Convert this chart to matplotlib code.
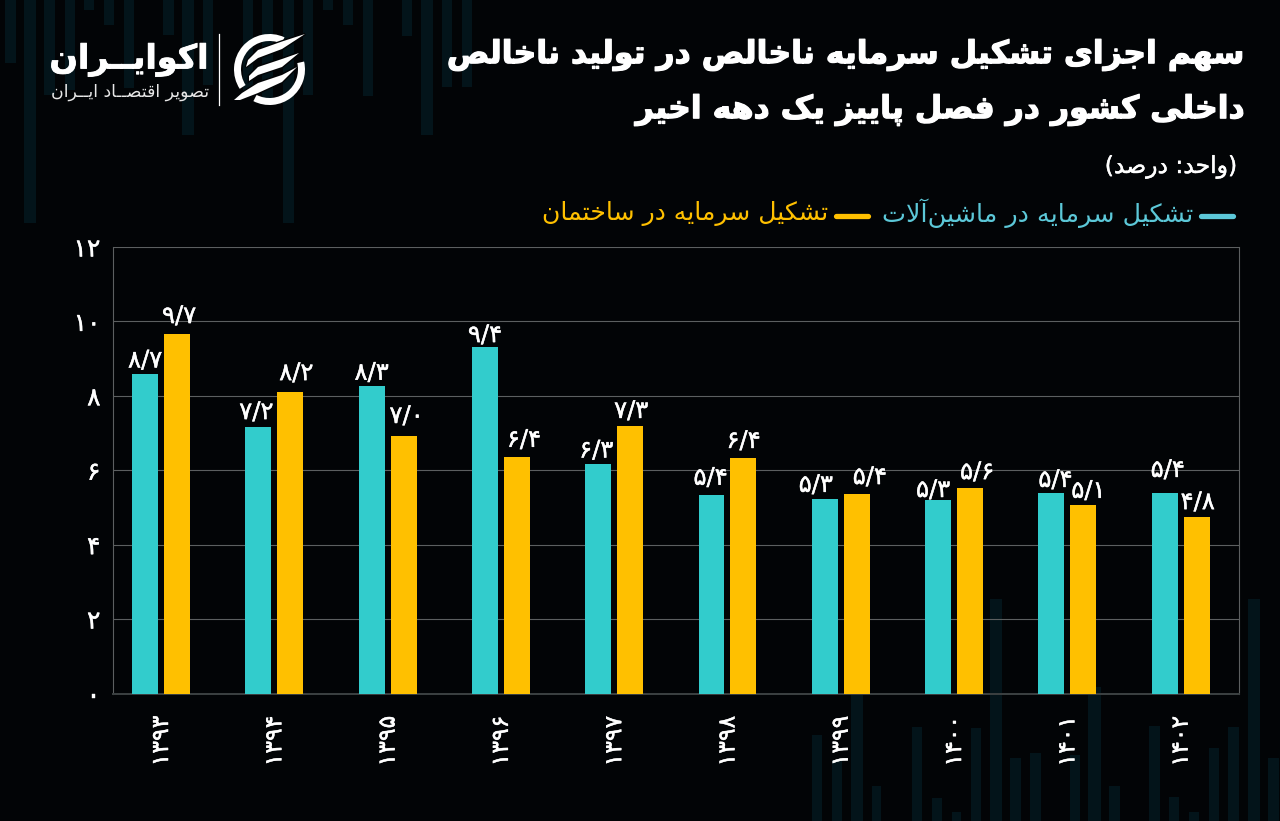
import matplotlib
matplotlib.use("Agg")
import matplotlib.pyplot as plt
import matplotlib.patheffects as pe
from matplotlib.patches import Polygon, Wedge
import numpy as np

years = ["۱۳۹۳", "۱۳۹۴", "۱۳۹۵", "۱۳۹۶", "۱۳۹۷", "۱۳۹۸", "۱۳۹۹", "۱۴۰۰", "۱۴۰۱", "۱۴۰۲"]
machinery = [8.6, 7.16, 8.27, 9.31, 6.18, 5.34, 5.23, 5.2, 5.39, 5.39]
building = [9.66, 8.1, 6.92, 6.36, 7.19, 6.33, 5.36, 5.52, 5.07, 4.74]
machinery_labels = ["۸/۷", "۷/۲", "۸/۳", "۹/۴", "۶/۳", "۵/۴", "۵/۳", "۵/۳", "۵/۴", "۵/۴"]
building_labels = ["۹/۷", "۸/۲", "۷/۰", "۶/۴", "۷/۳", "۶/۴", "۵/۴", "۵/۶", "۵/۱", "۴/۸"]
y_ticks = [0, 2, 4, 6, 8, 10, 12]
y_tick_labels = ["۰", "۲", "۴", "۶", "۸", "۱۰", "۱۲"]

title_1 = "سهم اجزای تشکیل سرمایه ناخالص در تولید ناخالص"
title_2 = "داخلی کشور در فصل پاییز یک دهه اخیر"
unit = "(واحد: درصد)"
name_machinery = "تشکیل سرمایه در ماشین\u200cآلات"
name_building = "تشکیل سرمایه در ساختمان"
logo_name = "اکوایــران"
logo_sub = "تصویر اقتصــاد ایــران"

# label nudges in pixels, relative to the top middle of each bar
machinery_dx = [0, -2, 0, 0, -2, -1, -9, -5, 4, 3]
machinery_dy = [13, 15, 13, 12, 13, 17, 14, 10, 13, 23]
building_dx = [2, 6, 3, 7, 1, 0, 13, 7, 5, 1]
building_dy = [18, 19, 20, 17, 15, 17, 17, 16, 14, 15]

# faint background stripes: left, right, end (pixels)
top_stripes = [(5, 16, 63), (24, 36, 223), (44, 55, 95), (65, 75, 90), (84, 94, 10), (104, 114, 25),
               (124, 134, 88), (163, 174, 35), (182, 194, 135), (203, 213, 85), (243, 253, 95),
               (262, 273, 100), (283, 294, 223), (303, 313, 95), (323, 333, 10), (343, 353, 25),
               (363, 373, 96), (402, 412, 36), (421, 433, 135), (442, 452, 87), (462, 472, 87)]
bottom_stripes = [(812, 822, 735), (832, 842, 760), (851, 863, 695), (872, 881, 786), (912, 922, 727),
                  (932, 942, 798), (952, 961, 812), (971, 981, 728), (990, 1002, 599), (1010, 1021, 758),
                  (1030, 1041, 753), (1070, 1080, 755), (1088, 1101, 687), (1109, 1120, 786),
                  (1149, 1160, 726), (1169, 1179, 797), (1189, 1199, 812), (1209, 1219, 748),
                  (1228, 1239, 727), (1248, 1260, 599), (1268, 1279, 758)]

TEAL = "#32cccc"
YELLOW = "#ffc000"
BG = "#020406"
STRIPE = "#03141a"

# matplotlib does no arabic shaping, so pick the presentation forms by hand
DUAL = {"ب": 0xFE8F, "ت": 0xFE95, "ج": 0xFE9D, "ح": 0xFEA1, "خ": 0xFEA5, "س": 0xFEB1, "ش": 0xFEB5,
        "ص": 0xFEB9, "ف": 0xFED1, "ق": 0xFED5, "ل": 0xFEDD, "م": 0xFEE1, "ن": 0xFEE5, "ه": 0xFEE9,
        "پ": 0xFB56, "ک": 0xFB8E, "ی": 0xFBFC}
RIGHT = {"ا": 0xFE8D, "آ": 0xFE81, "د": 0xFEA9, "ر": 0xFEAD, "ز": 0xFEAF, "و": 0xFEED}
LAM_ALEF = {"ا": 0xFEFB, "آ": 0xFEF5}


def shape(s):
    out = []
    i = 0
    while i < len(s):
        c = s[i]
        nxt = s[i + 1] if i + 1 < len(s) else ""
        prev = s[i - 1] if i > 0 else ""
        after_join = prev in DUAL or prev == "ـ"
        before_join = nxt != "" and (nxt in DUAL or nxt in RIGHT or nxt == "ـ")
        if c == "ل" and nxt in LAM_ALEF and nxt != "":
            out.append(chr(LAM_ALEF[nxt] + (1 if after_join else 0)))
            i += 2
            continue
        if c in DUAL:
            if after_join and before_join:
                k = 3
            elif before_join:
                k = 2
            elif after_join:
                k = 1
            else:
                k = 0
            out.append(chr(DUAL[c] + k))
        elif c in RIGHT:
            out.append(chr(RIGHT[c] + (1 if after_join else 0)))
        elif c == "\u200c":
            pass
        else:
            out.append(c)
        i += 1
    text = "".join(reversed(out))
    return text.translate(str.maketrans("()", ")("))


def thick(width, colour="white"):
    return [pe.withStroke(linewidth=width, foreground=colour)]


plt.rcParams["font.family"] = "DejaVu Sans"
fig = plt.figure(figsize=(12.8, 8.21), dpi=100, facecolor=BG)

# full-figure layer in pixel units for the decoration, titles and legend
bg = fig.add_axes([0, 0, 1, 1], zorder=0)
bg.set_xlim(0, 1280)
bg.set_ylim(821, 0)
bg.axis("off")
for left, right, end in top_stripes:
    bg.bar((left + right) / 2, end, right - left, bottom=0, color=STRIPE, lw=0)
for left, right, end in bottom_stripes:
    bg.bar((left + right) / 2, 821 - end, right - left, bottom=end, color=STRIPE, lw=0)

bg.text(1245, 55, shape(title_1), color="white", fontsize=22.7, fontweight="bold", ha="right", va="center",
        path_effects=thick(0.9))
bg.text(1245, 110, shape(title_2), color="white", fontsize=22.7, fontweight="bold", ha="right", va="center",
        path_effects=thick(0.9))
bg.text(1237, 167, shape(unit), color="white", fontsize=16.9, ha="right", va="center", path_effects=thick(0.3))

bg.plot([1201, 1233], [216, 216], color="#5cc8d8", lw=3.8, solid_capstyle="round")
bg.text(1193, 213, shape(name_machinery), color="#5cc8d8", fontsize=18.3, ha="right", va="center")
bg.plot([836, 868], [216, 216], color=YELLOW, lw=3.8, solid_capstyle="round")
bg.text(828, 213, shape(name_building), color=YELLOW, fontsize=18.1, ha="right", va="center")

# logo
bg.text(209, 60, shape(logo_name), color="white", fontsize=24, fontweight="bold", ha="right", va="center",
        path_effects=thick(0.6))
bg.text(209, 92, shape(logo_sub), color="#e8e8e8", fontsize=12.5, ha="right", va="center")
bg.plot([219, 219], [34, 105], color="white", lw=0.9)
bg.add_patch(Wedge((269.5, 69.5), 35.5, 147, 295, width=7, color="white", lw=0))
bg.add_patch(Wedge((269.5, 69.5), 35.5, -13, 117, width=7, color="white", lw=0))
blades = [[(305, 34), (282, 41.5), (258, 50), (248, 60), (246, 67), (258, 58), (282, 49)],
          [(299, 53), (282, 59), (258, 67), (249, 76), (249, 81), (258, 75), (282, 67)],
          [(297, 67), (282, 75), (258, 83), (242, 93), (234, 100), (240, 100), (258, 93), (282, 82)]]
for pts in blades:
    bg.add_patch(Polygon(pts, closed=True, fc=BG, ec=BG, lw=2, zorder=3))
    bg.add_patch(Polygon(pts, closed=True, fc="white", lw=0, zorder=4))

# bar chart
ax = fig.add_axes([113 / 1280, (821 - 693.5) / 821, (1239 - 113) / 1280, (693.5 - 247) / 821], zorder=1)
ax.patch.set_alpha(0)
x = np.arange(len(years))
offset = 0.141
width = 0.229
ax.bar(x - offset, machinery, width, color=TEAL, zorder=3)
ax.bar(x + offset, building, width, color=YELLOW, zorder=3)
ax.set_xlim(-0.424, 9.515)
ax.set_ylim(0, 12)

for i in x:
    ax.annotate(machinery_labels[i], (i - offset, machinery[i]),
                xytext=(machinery_dx[i] * 0.72, machinery_dy[i] * 0.72), textcoords="offset points",
                color="white", fontsize=17.5, ha="center", va="center", zorder=5, path_effects=thick(0.3))
    ax.annotate(building_labels[i], (i + offset, building[i]),
                xytext=(building_dx[i] * 0.72, building_dy[i] * 0.72), textcoords="offset points",
                color="white", fontsize=17.5, ha="center", va="center", zorder=5, path_effects=thick(0.3))

ax.set_yticks(y_ticks)
ax.set_yticklabels(y_tick_labels, color="white", fontsize=18, path_effects=thick(0.3))
ax.set_xticks(x)
ax.set_xticklabels(years, rotation=90, color="white", fontsize=17, va="top", path_effects=thick(0.3))
ax.tick_params(axis="y", length=0, pad=9)
ax.tick_params(axis="x", length=0, pad=16)
ax.grid(axis="y", color="#5c5f60", lw=0.8)
ax.set_axisbelow(True)
for side in ["left", "right"]:
    ax.spines[side].set_color("#5c5f60")
    ax.spines[side].set_linewidth(0.8)
ax.spines["top"].set_visible(False)
ax.spines["bottom"].set_color("#3c4142")
ax.spines["bottom"].set_linewidth(1.4)

fig.savefig("out.png", dpi=100, facecolor=BG)
